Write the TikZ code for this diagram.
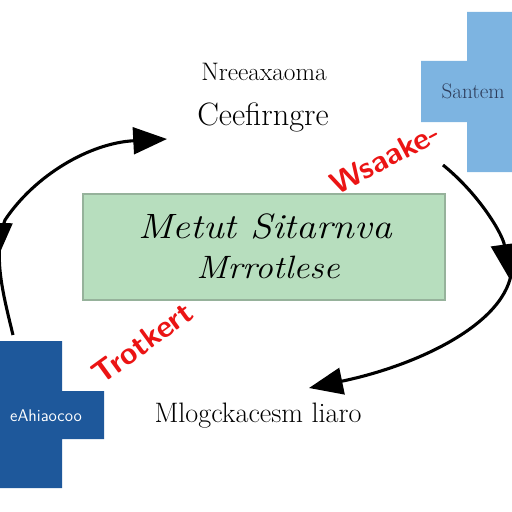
\documentclass[tikz,border=0pt]{standalone}
\usepackage{xcolor}
\usepackage{tikz}
\usetikzlibrary{arrows.meta,positioning,decorations.markings}
\definecolor{boxGreen}  {RGB}{183,222,190}
\definecolor{boxEdge}   {RGB}{150,178,155}
\definecolor{lightBlue} {RGB}{125,180,225}
\definecolor{darkBlue}  {RGB}{30, 88, 155}
\definecolor{slateText} {RGB}{45, 60, 90}
\definecolor{scrawlRed} {RGB}{235,20, 20}

\begin{document}
\begin{tikzpicture}[x=0.025cm,y=-0.025cm,
    flow/.style={line width=2.2pt,black},
    bigtip/.style={-{Triangle[length=24pt,width=19pt]}},
    scrawl/.style={scrawlRed,font=\sffamily\bfseries\fontsize{22}{24}\selectfont},
    label/.style={font=\fontsize{18}{20}\selectfont}]
        \useasboundingbox (0,0) rectangle (512,512);
        \clip (0,0) rectangle (512,512);
        % crosses
        \fill[lightBlue] (467,12) -- (530,12) -- (530,172) -- (467,172) -- (467,122)
          -- (421,122) -- (421,61) -- (467,61) -- cycle;
        \fill[darkBlue] (-10,341) -- (62,341) -- (62,391) -- (104,391) -- (104,439)
          -- (62,439) -- (62,488) -- (-10,488) -- cycle;
        \node[anchor=base west,slateText,font=\fontsize{15}{16}\selectfont,inner sep=1pt] (sante) at (440,98) {Santem};
        \node[white,font=\sffamily\fontsize{12}{13}\selectfont] (eahi) at (46,416) {eAhiaocoo};
        % central box
        \node[draw=boxEdge,fill=boxGreen,line width=0.8pt,minimum width=362*0.025cm,
          minimum height=106*0.025cm] (meta) at (264,247) {};
        \node[font=\itshape\fontsize{25}{28}\selectfont,xscale=1.12] (mtit) at (265,226) {Metut Sitarnva};
        \node[font=\itshape\fontsize{23}{25}\selectfont,xscale=1.1] (msub) at (268,267) {Mrrotlese};
        % labels
        \node[label] (nree) at (264,72) {Nreeaxaoma};
        \node[label,font=\fontsize{23}{25}\selectfont] (ceef) at (263,117) {Ceefirngre};
        \node[label,font=\fontsize{20}{22}\selectfont] (mlog) at (258,416) {Mlogckacesm liaro};
        % red scrawls
        \node[scrawl,rotate=28] (wsak) at (385,158) {Wsaake-};
        \node[scrawl,rotate=36] (trot) at (142,343) {Trotkert};
        % cycle arrows
        \coordinate (lbot) at (13,335);
        \coordinate (lmid) at (5,220);
        \coordinate (ltop) at (167,139);
        \coordinate (rtop) at (443,165);
        \coordinate (rmid) at (509,278);
        \coordinate (rbot) at (309,388);
        \draw[flow,bigtip,postaction={decorate},decoration={markings,
            mark=at position 0.27 with {\arrowreversed{Triangle[length=22pt,width=18pt]}}}]
          (lbot) .. controls (2,290) and (-7,255) .. (lmid)
          .. controls (35,175) and (90,143) .. (ltop);
        \draw[flow,bigtip] (rtop) .. controls (480,195) and (503,235) .. (rmid);
        \draw[flow,bigtip] (512,262) .. controls (515,320) and (420,365) .. (rbot);
\end{tikzpicture}
\end{document}
